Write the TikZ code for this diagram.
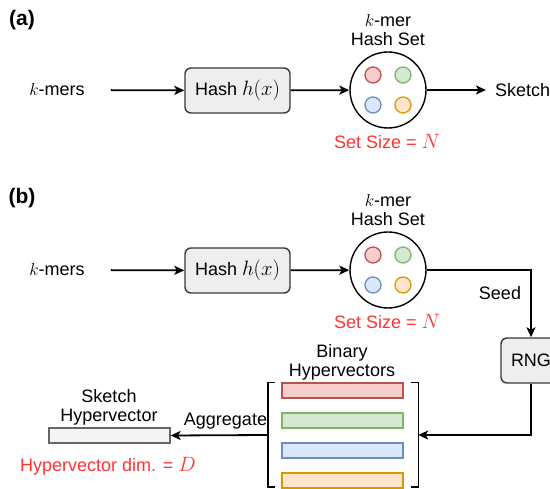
\documentclass[tikz,border=0pt]{standalone}
\usepackage{amsmath}
\usepackage{fontspec}
\setmainfont{Liberation Sans}
\usetikzlibrary{arrows.meta}

\definecolor{boxfill}{HTML}{EEEEEE}
\definecolor{boxline}{HTML}{36393D}
\definecolor{vecfill}{HTML}{F5F5F5}
\definecolor{vecline}{HTML}{666666}
\definecolor{sizered}{HTML}{FF3333}
\definecolor{redfill}{HTML}{F8CECC}\definecolor{redline}{HTML}{B85450}
\definecolor{greenfill}{HTML}{D5E8D4}\definecolor{greenline}{HTML}{82B366}
\definecolor{bluefill}{HTML}{DAE8FC}\definecolor{blueline}{HTML}{6C8EBF}
\definecolor{orangefill}{HTML}{FFE6CC}\definecolor{orangeline}{HTML}{D79B00}

% slightly larger math for the formulas in boxes and labels
\newcommand\bigmath[1]{{\fontsize{20}{19}\selectfont$#1$}}

\begin{document}
\begin{tikzpicture}[x=1pt,y=-1pt,
        font=\fontsize{18}{19}\selectfont,
        every node/.style={inner sep=0pt,align=center},
        hashbox/.style={draw=boxline,fill=boxfill,line width=1.4pt,rounded corners=6pt,minimum width=105pt,minimum height=45pt},
        hashset/.style={draw,circle,line width=1.4pt,minimum size=76pt},
        dot/.style={draw=#1line,fill=#1fill,circle,line width=1.3pt,minimum size=16pt},
        vec/.style={draw=#1line,fill=#1fill,line width=1.3pt,minimum width=121pt,minimum height=15pt},
        setsize/.style={text=sizered},
        arr/.style={line width=1.8pt,-{Stealth[length=10pt,width=9pt,inset=2.5pt]}}]

    \useasboundingbox (0,0) rectangle (550,489);
    \clip (0,0) rectangle (550,489);

    % (a) k-mers -> hash -> set -> sketch
    \node[font=\fontsize{21}{24}\selectfont\bfseries] (tagA) at (22,20) {(a)};
    \node (kmersA) at (57,90) {$k$-mers};
    \node[hashbox] (hashA) at (237.5,90.5) {Hash \bigmath{h(x)}};
    \node[hashset] (setA) at (388,90) {};
    \foreach \c/\dx/\dy in {red/-15/-15,green/15/-15,blue/-15/15,orange/15/15}
        \node[dot=\c] at ([shift={(\dx,\dy)}]setA.center) {};
    \node (setnameA) at (388,30) {$k$-mer\\Hash Set};
    \node[setsize] (sizeA) at (387,142) {Set Size = \bigmath{N}};
    \node[anchor=west] (sketchA) at (495,90) {Sketch};
    \draw[arr,shorten <=26pt] (kmersA) -- (hashA);
    \draw[arr] (hashA) -- (setA);
    \draw[arr,shorten >=9pt] (setA) -- (sketchA);

    % (b) same front end, then RNG and bundling
    \node[font=\fontsize{21}{24}\selectfont\bfseries] (tagB) at (22,198) {(b)};
    \node (kmersB) at (57,270) {$k$-mers};
    \node[hashbox] (hashB) at (237.5,270.5) {Hash \bigmath{h(x)}};
    \node[hashset] (setB) at (388,270) {};
    \foreach \c/\dx/\dy in {red/-15/-15,green/15/-15,blue/-15/15,orange/15/15}
        \node[dot=\c] at ([shift={(\dx,\dy)}]setB.center) {};
    \node (setnameB) at (388,210) {$k$-mer\\Hash Set};
    \node[setsize] (sizeB) at (387,322) {Set Size = \bigmath{N}};
    \draw[arr,shorten <=26pt] (kmersB) -- (hashB);
    \draw[arr] (hashB) -- (setB);

    \node[hashbox,minimum width=60pt] (rng) at (531,360.5) {RNG};
    \draw[arr] (setB.east) -| (rng.north);
    \node (seed) at (500,293) {Seed};

    % binary hypervectors between brackets
    \node[minimum width=150pt,minimum height=104pt] (bundle) at (343,435) {};
    \foreach \c [count=\i] in {red,green,blue,orange}
        \node[vec=\c] (hv\i) at (342.5,360.5+30*\i) {};
    \draw[line width=1.4pt] ([xshift=7pt]bundle.north west) -- (bundle.north west)
        -- (bundle.south west) -- ++(7,0);
    \draw[line width=1.4pt] ([xshift=-7pt]bundle.north east) -- (bundle.north east)
        -- (bundle.south east) -- ++(-7,0);
    \node (binname) at (342,362) {Binary\\Hypervectors};
    \draw[arr] (rng.south) |- (bundle.east);

    % aggregated sketch
    \node[vec=vec,minimum width=121pt] (sketchvec) at (109.5,435.5) {};
    \node (sketchname) at (109,407) {Sketch\\Hypervector};
    \node[setsize] (dimB) at (108,466) {Hypervector dim. = \bigmath{D}};
    \draw[arr] (bundle.west) -- (sketchvec.east);
    \node (aggr) at (225.5,421) {Aggregate};
\end{tikzpicture}
\end{document}
